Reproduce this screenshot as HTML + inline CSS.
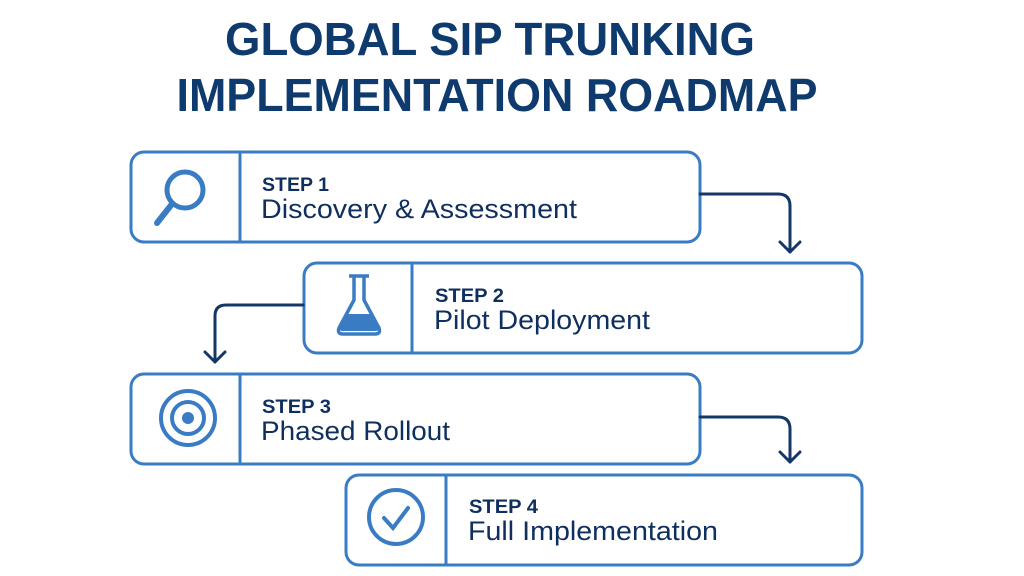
<!DOCTYPE html>
<html><head><meta charset="utf-8"><style>
html,body{margin:0;padding:0;background:#fff;}
svg{display:block;}
text{font-family:"Liberation Sans",sans-serif;}
</style></head><body>
<svg width="1024" height="576" viewBox="0 0 1024 576" xmlns="http://www.w3.org/2000/svg">
<g fill="#0f3a6e" font-weight="bold" font-size="46">
<text x="490" y="55" text-anchor="middle" textLength="530" lengthAdjust="spacingAndGlyphs">GLOBAL SIP TRUNKING</text>
<text x="497" y="111" text-anchor="middle" textLength="641" lengthAdjust="spacingAndGlyphs">IMPLEMENTATION ROADMAP</text>
</g>
<g fill="none" stroke="#3a7cc4" stroke-width="3">
<rect x="131" y="152" width="569" height="90" rx="13"/>
<line x1="240" y1="152" x2="240" y2="242"/>
<rect x="304" y="263" width="558" height="90" rx="13"/>
<line x1="412" y1="263" x2="412" y2="353"/>
<rect x="131" y="374" width="569" height="90" rx="13"/>
<line x1="240" y1="374" x2="240" y2="464"/>
<rect x="346" y="475" width="516" height="90" rx="13"/>
<line x1="446" y1="475" x2="446" y2="565"/>
</g>
<g fill="none" stroke="#143768" stroke-width="3" stroke-linecap="round" stroke-linejoin="round">
<path d="M700 194 H778 Q790 194 790 206 V252"/>
<path d="M780 242 L790 252 L800 242"/>
<path d="M303 305 H226 Q215 305 215 316 V362"/>
<path d="M205 352 L215 362 L225 352"/>
<path d="M700 417 H778 Q790 417 790 429 V462"/>
<path d="M780 452 L790 462 L800 452"/>
</g>
<g fill="none" stroke="#3a7cc4" stroke-width="5" stroke-linecap="round">
<circle cx="185" cy="190" r="18"/>
<line x1="172" y1="204" x2="157" y2="223" stroke-width="6"/>
<circle cx="188" cy="418" r="27" stroke-width="4"/>
<circle cx="188" cy="418" r="16" stroke-width="4"/>
<circle cx="396" cy="517" r="27" stroke-width="4"/>
<path d="M384 518 L393 528 L408 508" stroke-width="4"/>
</g>
<circle cx="188" cy="418" r="6" fill="#3a7cc4"/>
<g stroke="#3a7cc4" stroke-width="3.5" stroke-linejoin="round" fill="none">
<path d="M349 276 H369"/>
<path d="M354 276 V300 L339 328 Q337 334 343 334 H375 Q381 334 379 328 L364 300 V276"/>
</g>
<path d="M346 314 H372 L378 328 Q379 331 375 331 H343 Q339 331 340 328 Z" fill="#3a7cc4"/>
<g fill="#0f2f5e">
<text x="262" y="191" font-size="19" font-weight="bold" textLength="67" lengthAdjust="spacingAndGlyphs">STEP 1</text>
<text x="261" y="218" font-size="27" textLength="316" lengthAdjust="spacingAndGlyphs">Discovery &amp; Assessment</text>
<text x="435" y="302" font-size="19" font-weight="bold" textLength="69" lengthAdjust="spacingAndGlyphs">STEP 2</text>
<text x="434" y="329" font-size="27" textLength="216" lengthAdjust="spacingAndGlyphs">Pilot Deployment</text>
<text x="262" y="413" font-size="19" font-weight="bold" textLength="69" lengthAdjust="spacingAndGlyphs">STEP 3</text>
<text x="261" y="440" font-size="27" textLength="189" lengthAdjust="spacingAndGlyphs">Phased Rollout</text>
<text x="469" y="513" font-size="19" font-weight="bold" textLength="69" lengthAdjust="spacingAndGlyphs">STEP 4</text>
<text x="468" y="540" font-size="27" textLength="250" lengthAdjust="spacingAndGlyphs">Full Implementation</text>
</g>
</svg>
</body></html>
